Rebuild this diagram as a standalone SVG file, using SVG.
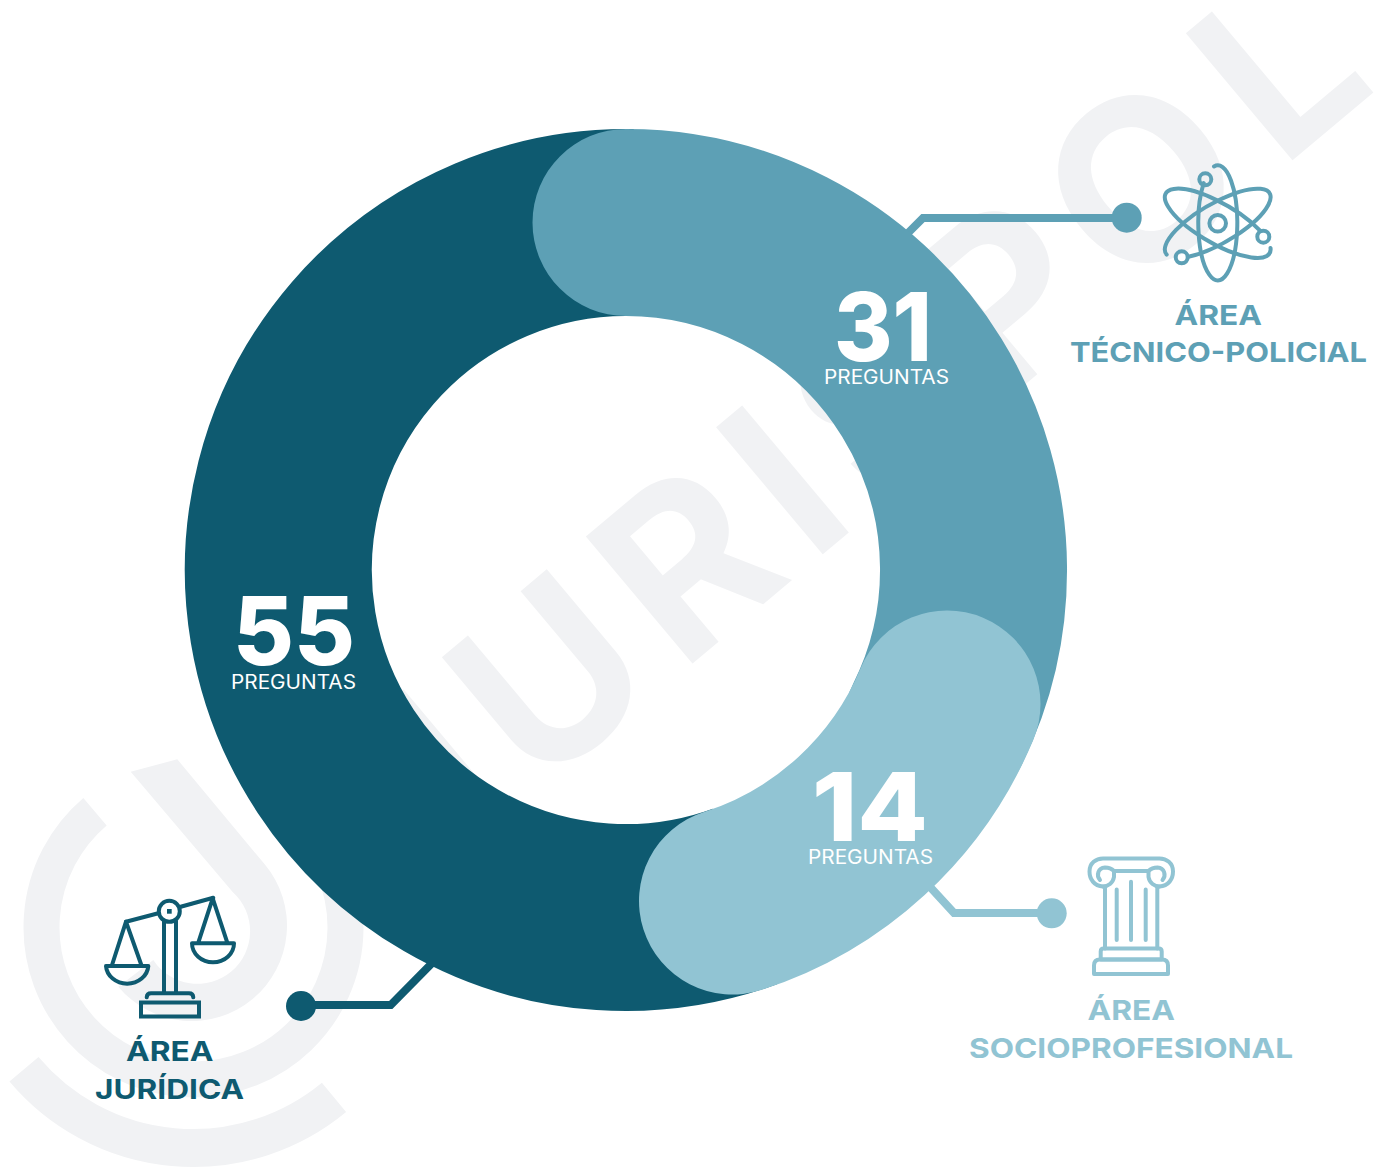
<svg xmlns="http://www.w3.org/2000/svg" width="1388" height="1168" viewBox="0 0 1388 1168">
<style>
.wm{fill:#f1f2f4}
.wmt{font-family:"Inter","Liberation Sans",sans-serif;font-weight:700;font-size:228px;fill:#f1f2f4}
.seg{fill:none;stroke-width:187;stroke-linecap:round}
.conn{fill:none;stroke-width:8}
.ic{fill:none;stroke-width:4;stroke-linecap:round;stroke-linejoin:round}
.num{font-family:"Inter","Liberation Sans",sans-serif;font-weight:800;font-size:95px;fill:#fff}
.pre{font-family:"Inter","Liberation Sans",sans-serif;font-weight:400;font-size:19.5px;fill:#fff}
.lab{font-family:"Inter","Liberation Sans",sans-serif;font-weight:700;font-size:27.5px}
.dark{stroke:#0e5a70}.mid{stroke:#5da0b5}.light{stroke:#91c4d3}
.fd{fill:#0e5a70}.fm{fill:#5da0b5}.fl{fill:#91c4d3}
</style>
<rect width="1388" height="1168" fill="#fff"/>
<g id="watermark">
<text class="wmt" transform="rotate(-40)" y="953.5" x="-252 -99 89 259 344 505 671 872">JURISPOL</text>
<path d="M95 811.7A152 152 0 1 0 300 819" fill="none" stroke="#f1f2f4" stroke-width="36"/>
<path d="M24 1069.3A221 221 0 0 0 334 1097.3" fill="none" stroke="#f1f2f4" stroke-width="38"/>
<path class="wm" d="M130.7 771.7L177.3 759.3L264.9 864.6A95 95 0 1 1 118.3 986.7L153.3 960A52.7 52.7 0 1 0 232.9 892.2Z"/>
</g>
<g id="connectors">
<path class="conn mid" d="M900 241L923 218H1127"/>
<circle class="fm" cx="1126.7" cy="217.7" r="15"/>
<path class="conn light" d="M920 876L954 913H1052"/>
<circle class="fl" cx="1051.7" cy="913.3" r="15"/>
<path class="conn dark" d="M445 950L390.7 1005H301"/>
<circle class="fd" cx="301" cy="1006" r="15"/>
</g>
<g id="segment-juridica">
<path class="seg dark" style="stroke-linecap:butt" d="M744.9 896.5A347.5 347.5 0 1 1 632 222.6"/>
<text class="num" x="233" y="665" textLength="122" lengthAdjust="spacingAndGlyphs">55</text>
<text class="pre" x="231" y="689" textLength="125" lengthAdjust="spacingAndGlyphs">PREGUNTAS</text>
</g>
<g id="segment-tecnico">
<path class="seg mid" d="M626 222.5A347.5 347.5 0 0 1 936.6 725.9"/>
<text class="num" x="834" y="360.7" textLength="98" lengthAdjust="spacingAndGlyphs">31</text>
<text class="pre" x="824" y="384" textLength="125" lengthAdjust="spacingAndGlyphs">PREGUNTAS</text>
</g>
<g id="segment-socio">
<path class="seg light" d="M947 704A347.5 347.5 0 0 1 732.5 901"/>
<text class="num" x="812" y="840.7" textLength="116" lengthAdjust="spacingAndGlyphs">14</text>
<text class="pre" x="808" y="864" textLength="125" lengthAdjust="spacingAndGlyphs">PREGUNTAS</text>
</g>
<g id="node-juridica">
<g class="ic dark">
<circle cx="169.3" cy="911.3" r="10.5"/>
<path d="M126 921.7L158.3 913.3M180.7 906.7L213.3 897.7"/>
<path d="M164 921V993M176 921V993"/>
<path d="M126 921.7L111.7 966M126 921.7L141.7 966M106 966H148.3A21.2 19 0 0 1 106 966Z"/>
<path d="M212.7 898.3L198.3 942.7M212.7 898.3L227.3 942.7M192 943.3H234A21 19 0 0 1 192 943.3Z"/>
<path d="M146.7 997.3Q147 993.3 151 993.3H189Q193 993.3 193.3 997.3"/>
<rect x="141" y="1002.5" width="58" height="14" stroke-linejoin="miter"/>
</g>
<rect class="fd" x="167" y="909" width="4.7" height="4.7"/>
<text class="lab fd" x="126" y="1061" textLength="87.5" lengthAdjust="spacingAndGlyphs">ÁREA</text>
<text class="lab fd" x="95" y="1098.7" textLength="149" lengthAdjust="spacingAndGlyphs">JURÍDICA</text>
</g>
<g id="node-tecnico">
<g class="ic mid">
<circle cx="1217.7" cy="223.3" r="8.3"/>
<circle cx="1205.3" cy="179.3" r="6"/>
<circle cx="1263.3" cy="236.7" r="6"/>
<circle cx="1181.7" cy="257.3" r="6"/>
<path d="M1203.7 183.1A19.5 57.6 0 1 0 1214 166.4"/>
<path d="M1259.8 230.4A60 20 30 1 0 1270.5 247.9"/>
<path d="M1188.5 256.7A60 20 -30 1 0 1166.7 254.6"/>
</g>
<text class="lab fm" x="1174.5" y="325" textLength="87.5" lengthAdjust="spacingAndGlyphs">ÁREA</text>
<text class="lab fm" x="1070" y="361.7" textLength="297" lengthAdjust="spacingAndGlyphs">TÉCNICO-POLICIAL</text>
</g>
<g id="node-socio">
<g class="ic light">
<path d="M1103 886.5C1094 886 1089.5 879 1089.5 871.5C1089.5 863 1096 858.5 1103 858.5H1159.5C1166.5 858.5 1173 863 1173 871.5C1173 879 1168.5 886 1159.5 886.5"/>
<path d="M1100 880C1096 875 1098 868 1105 867.5C1109 867.5 1112 869 1114 871H1148.5C1150.5 869 1153.5 867.5 1157.5 867.5C1164.5 868 1166.5 875 1162.5 880"/>
<path d="M1103 886.5C1108 886.5 1113 883 1114 877V871M1159.5 886.5C1154.5 886.5 1149.5 883 1148.5 877V871"/>
<path d="M1105 886.5V948.5M1157.3 886.5V948.5M1116.7 889.5V940M1131 881.7V940M1145.7 889.5V940"/>
<path d="M1100.7 959.5V951.5Q1100.7 948.5 1103.7 948.5H1158.7Q1161.7 948.5 1161.7 951.5V959.5Z"/>
<path d="M1094 974V965.5Q1094 959.5 1100 959.5H1162Q1168 959.5 1168 965.5V974Z"/>
</g>
<text class="lab fl" x="1087.5" y="1020" textLength="87.5" lengthAdjust="spacingAndGlyphs">ÁREA</text>
<text class="lab fl" x="969" y="1058" textLength="324" lengthAdjust="spacingAndGlyphs">SOCIOPROFESIONAL</text>
</g>
</svg>
